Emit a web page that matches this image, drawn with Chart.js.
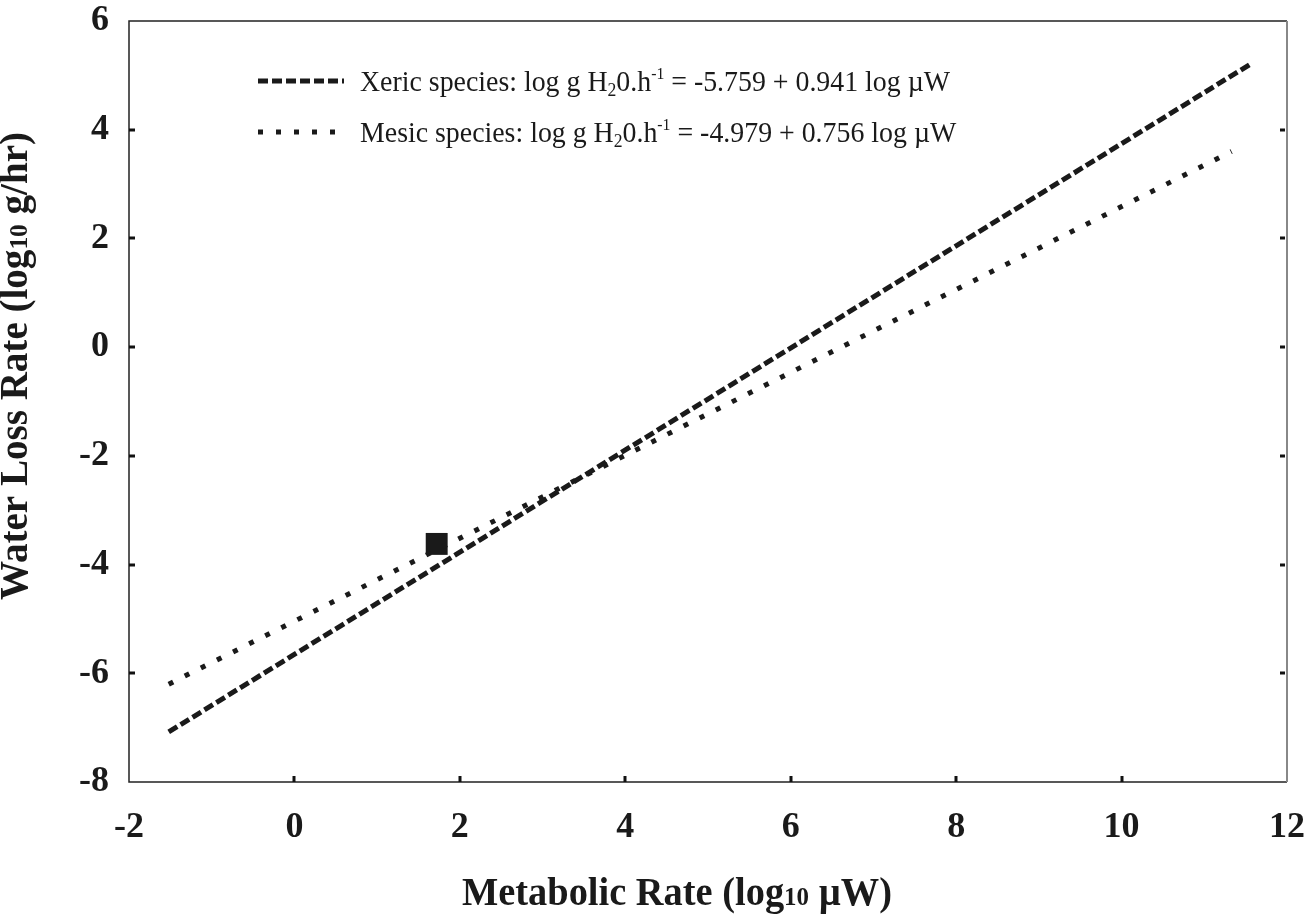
<!DOCTYPE html>
<html>
<head>
<meta charset="utf-8">
<script src="https://cdn.jsdelivr.net/npm/chart.js@4/dist/chart.umd.min.js"></script>
<style>
  body { margin: 0; background: #fff; }
  canvas { display: block; }
</style>
</head>
<body>
<canvas id="chart" width="1307" height="915"></canvas>
<script>
// values
const xericX = [-1.52, 11.55];
const xericY = [-7.08, 5.2];
const mesicX = [-1.52, 11.33];
const mesicY = [-6.2, 3.6];
const pointX = [1.72];
const pointY = [-3.62];

const xTickValues = [-2, 0, 2, 4, 6, 8, 10, 12];
const yTickValues = [-8, -6, -4, -2, 0, 2, 4, 6];

const legendNames = ['Xeric species: log g H', 'Mesic species: log g H'];
const legendTails = [' = -5.759 + 0.941 log \u00b5W', ' = -4.979 + 0.756 log \u00b5W'];

const serif = '"Liberation Serif", "Times New Roman", serif';
const ink = '#1a1a1a';

function toPoints(xs, ys) {
  return xs.map((x, i) => ({ x: x, y: ys[i] }));
}

// draws a run of text pieces with different sizes / offsets, squeezed horizontally
function drawParts(ctx, parts, x, y, opts) {
  ctx.save();
  let total = 0;
  parts.forEach(p => {
    ctx.font = `${p.weight || 'normal'} ${p.size}px ${serif}`;
    p.w = ctx.measureText(p.text).width;
    total += p.w;
  });
  const sx = opts.width ? opts.width / total : (opts.scale || 1);
  ctx.translate(x, y);
  if (opts.rotate) ctx.rotate(opts.rotate);
  ctx.scale(sx, 1);
  let cx = opts.center ? -total / 2 : 0;
  ctx.fillStyle = ink;
  ctx.textBaseline = 'alphabetic';
  ctx.textAlign = 'left';
  parts.forEach(p => {
    ctx.font = `${p.weight || 'normal'} ${p.size}px ${serif}`;
    ctx.fillText(p.text, cx, p.dy || 0);
    cx += p.w;
  });
  ctx.restore();
  return sx;
}

const framePlugin = {
  id: 'frame',
  afterDraw(chart) {
    const ctx = chart.ctx;
    const a = chart.chartArea;
    const xs = chart.scales.x, ys = chart.scales.y;
    ctx.save();

    // box
    ctx.strokeStyle = '#222';
    ctx.lineWidth = 1.5;
    ctx.beginPath();
    ctx.moveTo(a.right, a.top);
    ctx.lineTo(a.left, a.top);
    ctx.lineTo(a.left, a.bottom);
    ctx.lineTo(a.right, a.bottom);
    ctx.stroke();
    ctx.strokeStyle = '#888';
    ctx.lineWidth = 2;
    ctx.beginPath();
    ctx.moveTo(a.right, a.top);
    ctx.lineTo(a.right, a.bottom);
    ctx.stroke();

    // inward tick marks
    ctx.strokeStyle = '#111';
    ctx.lineWidth = 3;
    ctx.beginPath();
    xs.ticks.forEach(t => {
      const px = Math.round(xs.getPixelForValue(t.value));
      if (px <= a.left + 2 || px >= a.right - 2) return;
      ctx.moveTo(px, a.bottom);
      ctx.lineTo(px, a.bottom - 6);
    });
    ys.ticks.forEach(t => {
      const py = Math.round(ys.getPixelForValue(t.value));
      if (py <= a.top + 2 || py >= a.bottom - 2) return;
      ctx.moveTo(a.left, py);
      ctx.lineTo(a.left + 6, py);
      ctx.moveTo(a.right - 7, py);
      ctx.lineTo(a.right - 2, py);
    });
    ctx.stroke();

    // axis titles
    drawParts(ctx, [
      { text: 'Metabolic Rate (log', size: 40, weight: 'bold' },
      { text: '10', size: 26, weight: 'bold' },
      { text: ' \u00b5W)', size: 40, weight: 'bold' }
    ], 677, 905, { center: true, width: 430 });

    drawParts(ctx, [
      { text: 'Water Loss Rate (log', size: 40, weight: 'bold' },
      { text: '10', size: 26, weight: 'bold' },
      { text: ' g/hr)', size: 40, weight: 'bold' }
    ], 27, 366, { center: true, width: 468, rotate: -Math.PI / 2 });

    // legend
    const rows = [81, 132];
    const ds = chart.data.datasets;
    let sx = null;
    rows.forEach((ry, i) => {
      ctx.save();
      ctx.strokeStyle = ds[i].borderColor;
      ctx.lineWidth = ds[i].borderWidth;
      ctx.setLineDash(ds[i].borderDash);
      ctx.beginPath();
      ctx.moveTo(258, ry);
      ctx.lineTo(344, ry);
      ctx.stroke();
      ctx.restore();
      const parts = [
        { text: legendNames[i], size: 30 },
        { text: '2', size: 19, dy: 5 },
        { text: '0.h', size: 30 },
        { text: '-1', size: 17, dy: -12 },
        { text: legendTails[i], size: 30 }
      ];
      if (sx === null) sx = drawParts(ctx, parts, 360, ry + 10, { width: 590 });
      else drawParts(ctx, parts, 360, ry + 10, { scale: sx });
    });

    ctx.restore();
  }
};

const tickFont = { family: serif, size: 36, weight: 'bold' };

new Chart(document.getElementById('chart'), {
  type: 'scatter',
  data: {
    datasets: [
      {
        label: 'Xeric species',
        data: toPoints(xericX, xericY),
        showLine: true,
        borderColor: ink,
        borderWidth: 5,
        borderDash: [10, 4],
        borderCapStyle: 'butt',
        pointRadius: 0
      },
      {
        label: 'Mesic species',
        data: toPoints(mesicX, mesicY),
        showLine: true,
        borderColor: ink,
        borderWidth: 5,
        borderDash: [5, 13],
        borderCapStyle: 'butt',
        pointRadius: 0
      },
      {
        label: 'point',
        data: toPoints(pointX, pointY),
        showLine: false,
        pointStyle: 'rect',
        pointRadius: 15.5,
        backgroundColor: ink,
        borderColor: ink,
        borderWidth: 0
      }
    ]
  },
  options: {
    responsive: false,
    animation: false,
    layout: { padding: { top: 21, right: 20, left: 0, bottom: 0 } },
    plugins: {
      legend: { display: false },
      tooltip: { enabled: false },
      title: { display: false }
    },
    scales: {
      x: {
        type: 'linear',
        min: -2,
        max: 12,
        afterBuildTicks: s => { s.ticks = xTickValues.map(v => ({ value: v })); },
        ticks: { color: ink, font: tickFont, padding: 24 },
        grid: { display: false, drawTicks: false },
        border: { display: false },
        afterFit: s => { s.height = 133; s.paddingLeft = 0; s.paddingRight = 0; }
      },
      y: {
        type: 'linear',
        min: -8,
        max: 6,
        afterBuildTicks: s => { s.ticks = yTickValues.map(v => ({ value: v })); },
        ticks: { color: ink, font: tickFont, padding: 20 },
        grid: { display: false, drawTicks: false },
        border: { display: false },
        afterFit: s => { s.width = 129; s.paddingTop = 0; s.paddingBottom = 0; }
      }
    }
  },
  plugins: [framePlugin]
});
</script>
</body>
</html>
